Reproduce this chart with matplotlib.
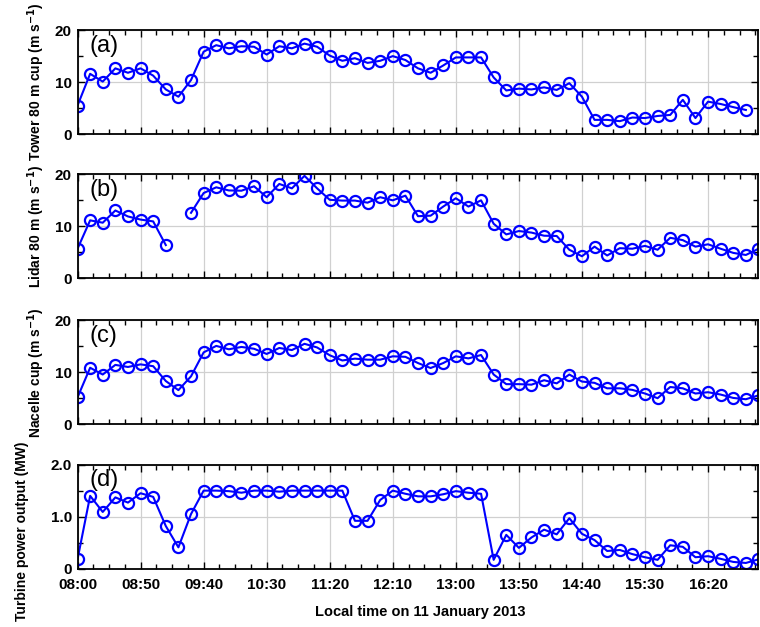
import numpy as np
import matplotlib
matplotlib.use("Agg")
import matplotlib.pyplot as plt
from matplotlib.ticker import MultipleLocator, FixedLocator

plt.rcParams['font.family'] = ['Liberation Sans', 'DejaVu Sans']

# time axis: minutes after 08:00, 10-minute records
step_min = 10
tick_labels = ["08:00", "08:50", "09:40", "10:30", "11:20", "12:10",
               "13:00", "13:50", "14:40", "15:30", "16:20"]

tower = [5.5, 11.6, 10.1, 12.65, 11.8, 12.65, 11.25, 8.6, 7.2, 10.4,
         15.85, 17.1, 16.5, 16.9, 16.8, 15.3, 16.9, 16.5, 17.4, 16.8,
         15.1, 14.1, 14.6, 13.7, 14.1, 15.0, 14.25, 12.65, 11.8, 13.2,
         14.75, 14.75, 14.75, 10.9, 8.4, 8.75, 8.6, 9.0, 8.5, 9.8,
         7.2, 2.75, 2.75, 2.5, 3.2, 3.1, 3.5, 3.7, 6.6, 3.1,
         6.25, 5.8, 5.2, 4.65]

lidar = [5.7, 11.15, 10.7, 13.05, 11.9, 11.3, 10.95, 6.4, np.nan, 12.6,
         16.4, 17.5, 16.9, 16.85, 17.7, 15.6, 18.15, 17.3, 19.7, 17.3,
         15.1, 14.95, 14.95, 14.55, 15.6, 15.0, 15.9, 11.95, 12.05, 13.8,
         15.4, 13.8, 15.0, 10.5, 8.45, 9.1, 8.8, 8.2, 8.15, 5.5,
         4.25, 6.1, 4.4, 5.8, 5.7, 6.25, 5.5, 7.8, 7.35, 6.1,
         6.55, 5.7, 4.9, 4.5, 5.7]

nacelle = [5.2, 10.9, 9.6, 11.45, 11.05, 11.55, 11.2, 8.35, 6.6, 9.25,
           13.85, 15.1, 14.45, 14.9, 14.55, 13.55, 14.7, 14.3, 15.5, 14.8,
           13.3, 12.3, 12.65, 12.45, 12.45, 13.1, 13.0, 11.8, 10.85, 11.8,
           13.1, 12.7, 13.35, 9.6, 7.75, 7.75, 7.65, 8.5, 7.9, 9.6,
           8.25, 8.0, 6.95, 6.95, 6.65, 5.95, 5.05, 7.2, 6.95, 5.95,
           6.2, 5.75, 5.1, 4.85, 5.6]

power = [0.18, 1.40, 1.09, 1.37, 1.27, 1.45, 1.38, 0.82, 0.41, 1.05,
         1.50, 1.50, 1.49, 1.46, 1.50, 1.50, 1.48, 1.50, 1.50, 1.50,
         1.50, 1.50, 0.92, 0.92, 1.32, 1.50, 1.44, 1.39, 1.39, 1.43,
         1.49, 1.46, 1.44, 0.17, 0.65, 0.40, 0.60, 0.75, 0.66, 0.97,
         0.67, 0.55, 0.34, 0.36, 0.28, 0.22, 0.17, 0.45, 0.42, 0.22,
         0.24, 0.19, 0.13, 0.11, 0.18]

series = [tower, lidar, nacelle, power]
panel_tags = ["(a)", "(b)", "(c)", "(d)"]
ylabels = ["Tower 80 m cup (m s$^{\\mathbf{-1}}$)", "Lidar 80 m (m s$^{\\mathbf{-1}}$)",
           "Nacelle cup (m s$^{\\mathbf{-1}}$)", "Turbine power output (MW)"]

fig = plt.figure(figsize=(7.6, 6.27), dpi=100)
left, width = 0.102, 0.896
bottoms = [0.786, 0.556, 0.323, 0.093]
height = 0.166

tick_pos = [i * 50 for i in range(len(tick_labels))]

for k, (vals, tag, yl, b) in enumerate(zip(series, panel_tags, ylabels, bottoms)):
    ax = fig.add_axes([left, b, width, height])
    x = np.arange(len(vals)) * step_min
    ax.plot(x, vals, '-o', color='#0000ff', lw=1.5, ms=8,
            markerfacecolor='none', markeredgewidth=1.6)
    ax.set_xlim(0, 540)
    ax.xaxis.set_major_locator(FixedLocator(tick_pos))
    ax.xaxis.set_minor_locator(MultipleLocator(12.5))
    if k == 3:
        ax.set_ylim(0, 2)
        ax.set_yticks([0, 1, 2])
        ax.set_yticklabels(["0", "1.0", "2.0"])
        ax.yaxis.set_minor_locator(MultipleLocator(0.5))
        ax.set_xticklabels(tick_labels)
    else:
        ax.set_ylim(0, 20)
        ax.set_yticks([0, 10, 20])
        ax.yaxis.set_minor_locator(MultipleLocator(5))
        ax.set_xticklabels([])
    ax.tick_params(which='both', direction='in', top=True, right=True,
                   labelsize=11)
    ax.tick_params(axis='y', pad=4)
    ax.tick_params(axis='x', pad=7)
    ax.tick_params(which='major', length=5, width=1)
    ax.tick_params(which='minor', length=3.5, width=1)
    for lab in ax.get_xticklabels() + ax.get_yticklabels():
        lab.set_fontweight('bold')
    ax.grid(True, which='major', color='#d0d0d0', lw=0.9)
    ax.set_axisbelow(True)
    for s in ax.spines.values():
        s.set_linewidth(1.3)
    ax.text(0.017, 0.85, tag, transform=ax.transAxes, fontsize=17,
            va='center', ha='left')
    if k < 3:
        ax.set_ylabel(yl, fontsize=10, fontweight='bold', labelpad=6)

fig.text(0.029, 0.153, ylabels[3], rotation=90, fontsize=10,
         fontweight='bold', ha='center', va='center')
fig.text(0.553, 0.024, "Local time on 11 January 2013", fontsize=10.5,
         fontweight='bold', ha='center', va='center')

fig.savefig("out.png", dpi=100)
